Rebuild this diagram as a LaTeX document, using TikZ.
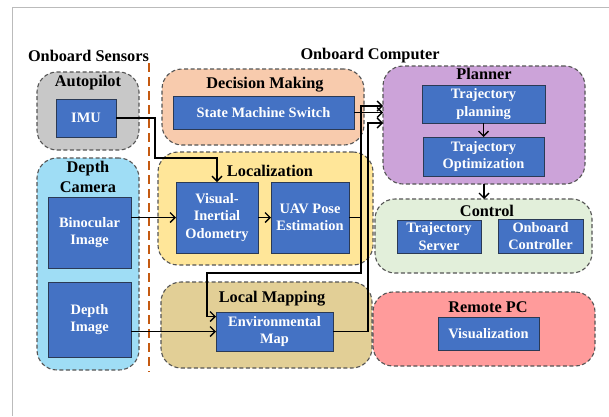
\documentclass[tikz,border=0pt]{standalone}
\usepackage{fontspec}
\setmainfont{Liberation Serif}
\usetikzlibrary{arrows.meta,calc}
\definecolor{grpline}{HTML}{555555}
\definecolor{blkfill}{HTML}{4472C4}
\definecolor{blkline}{HTML}{2B3A55}
\definecolor{cAuto}{HTML}{C8C8C8}
\definecolor{cCam}{HTML}{9FDDF5}
\definecolor{cDec}{HTML}{F8CBAD}
\definecolor{cLoc}{HTML}{FFE699}
\definecolor{cMap}{HTML}{E2CF96}
\definecolor{cPlan}{HTML}{CCA3D9}
\definecolor{cCtrl}{HTML}{E2EFDA}
\definecolor{cRpc}{HTML}{FF9B9B}
\definecolor{sepline}{HTML}{C55A11}
\definecolor{frameline}{HTML}{BBBBBB}
\begin{document}
\begin{tikzpicture}[x=1pt,y=-1pt,
 grp/.style={draw=grpline, line width=1.1pt, dash pattern=on 4pt off 2.5pt, rounded corners=20pt, inner sep=0pt, outer sep=0pt},
 blk/.style={draw=blkline, fill=blkfill, line width=0.9pt, text=white, font=\bfseries\fontsize{14.4}{17.5}\selectfont, align=center, inner sep=0pt, outer sep=0pt},
 ttl/.style={font=\bfseries\fontsize{16.3}{20}\selectfont, inner sep=0pt, align=center},
 arr/.style={line width=1.4pt, -{Straight Barb[length=5pt,width=10pt,line width=1.4pt]}},
 ln/.style={line width=1.4pt}]
\useasboundingbox (0,0) rectangle (609,416);
\fill[white] (0,0) rectangle (609,416);
% frame
\draw[frameline, line width=1pt] (12.5,416) -- (12.5,7.5) -- (609,7.5);
% headers
\node[ttl] (hSens) at (88.5,56) {Onboard Sensors};
\node[ttl] (hComp) at (370,56) {Onboard Computer};
% separator
\draw[sepline, line width=1.6pt, dash pattern=on 9pt off 5pt] (149,63) -- (149,372);
% groups
\node[grp, fill=cAuto, minimum width=102pt, minimum height=78pt] (gAuto) at (88,111) {};
\node[grp, fill=cCam, minimum width=102pt, minimum height=212pt] (gCam) at (88,264) {};
\node[grp, fill=cDec, minimum width=202pt, minimum height=76pt] (gDec) at (263,107) {};
\node[grp, fill=cLoc, minimum width=215pt, minimum height=113pt] (gLoc) at (265.5,208.5) {};
\node[grp, fill=cMap, minimum width=211pt, minimum height=86pt] (gMap) at (266.5,325) {};
\node[grp, fill=cPlan, minimum width=202pt, minimum height=118pt] (gPlan) at (484,125) {};
\node[grp, fill=cCtrl, minimum width=217pt, minimum height=74pt] (gCtrl) at (483.5,236) {};
\node[grp, fill=cRpc, minimum width=222pt, minimum height=74pt] (gRpc) at (484,329) {};
% group labels
\node[ttl] (lAuto) at (88,83) {Autopilot};
\node[ttl] (lCam) at (88,177) {Depth\\Camera};
\node[ttl] (lDec) at (265,85) {Decision Making};
\node[ttl] (lLoc) at (270,171) {Localization};
\node[ttl] (lMap) at (272,299) {Local Mapping};
\node[ttl] (lPlan) at (484,74) {Planner};
\node[ttl] (lCtrl) at (487,211) {Control};
\node[ttl] (lRpc) at (488,307) {Remote PC};
% blocks
\node[blk, minimum width=60pt, minimum height=38pt] (imu) at (86,118) {IMU};
\node[blk, minimum width=83pt, minimum height=71pt] (bino) at (89.5,232.5) {Binocular\\Image};
\node[blk, minimum width=83pt, minimum height=75pt] (depth) at (89.5,319.5) {Depth\\Image};
\node[blk, minimum width=181pt, minimum height=33pt] (sms) at (263.5,112.5) {State Machine Switch};
\node[blk, minimum width=82pt, minimum height=71pt] (vio) at (217,217.5) {Visual-\\Inertial\\Odometry};
\node[blk, minimum width=78pt, minimum height=71pt] (uav) at (310,217.5) {UAV Pose\\Estimation};
\node[blk, minimum width=117pt, minimum height=39pt] (env) at (274.5,331.5) {Environmental\\Map};
\node[blk, minimum width=123pt, minimum height=38pt] (tp) at (483.5,104) {Trajectory\\planning};
\node[blk, minimum width=121pt, minimum height=39pt] (to) at (483.5,156.5) {Trajectory\\Optimization};
\node[blk, minimum width=84pt, minimum height=33pt] (ts) at (439,236.5) {Trajectory\\Server};
\node[blk, minimum width=85pt, minimum height=34pt] (oc) at (540.5,236) {Onboard\\Controller};
\node[blk, minimum width=101pt, minimum height=33pt] (vis) at (488.5,333.5) {Visualization};
% junction coordinates
\coordinate (j1) at (155,158);
\coordinate (t1top) at (361,106);
\coordinate (t1bot) at (361,273);
\coordinate (k1) at (207,273);
\coordinate (t2top) at (368,123);
% connectors
\draw[arr] (imu.east) -| (j1) -| (vio.north);
\draw[arr] (bino.east |- vio.west) -- (vio.west);
\draw[arr] (vio.east) -- (uav.west);
\draw[arr] (sms.east) -- (sms.east -| gPlan.west);
\draw[arr] (uav.east) -| (t1top) -- (t1top -| gPlan.west);
\draw[arr] (t1top |- uav.east) -- (t1bot) -- (k1) |- ($(env.west)+(0,-15)$);
\draw[arr] (depth.east |- env.west) -- (env.west);
\draw[arr] (env.east) -| (t2top) -- (t2top -| gPlan.west);
\draw[arr] (tp.south) -- (to.north);
\draw[arr] (gPlan.south) -- (gPlan.south |- gCtrl.north);
\end{tikzpicture}
\end{document}
